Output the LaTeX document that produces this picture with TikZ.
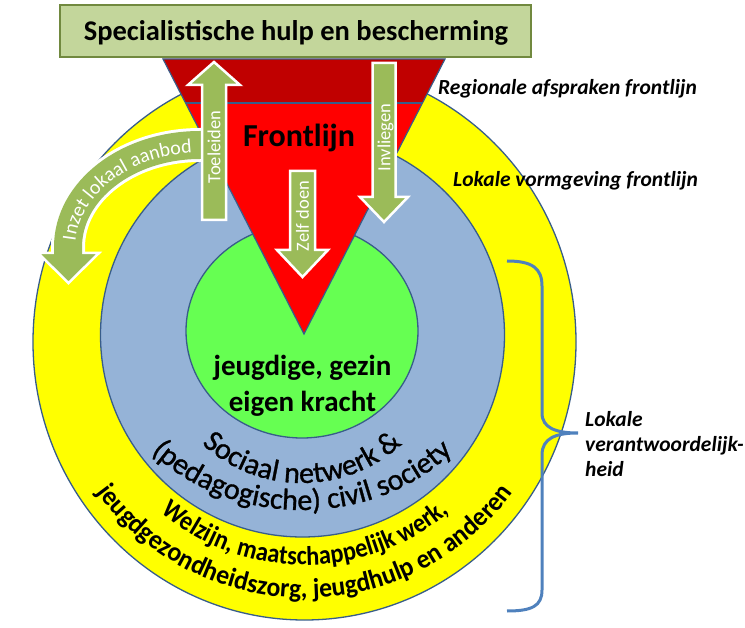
\documentclass[tikz,border=0pt]{standalone}
\usepackage{fontspec}
\setmainfont{Carlito}
\newfontfamily\condfont[FakeStretch=0.9]{Carlito}
\newfontfamily\condfontb[FakeStretch=0.95]{Carlito}
\newfontfamily\heavyfont[FakeBold=1]{Carlito}
\usetikzlibrary{decorations.text}
\definecolor{yel}{RGB}{255,255,0}
\definecolor{blu}{RGB}{149,179,215}
\definecolor{grn}{RGB}{102,255,82}
\definecolor{redd}{RGB}{255,0,0}
\definecolor{dred}{RGB}{192,0,0}
\definecolor{outl}{RGB}{56,93,138}
\definecolor{boxfill}{RGB}{195,214,155}
\definecolor{boxline}{RGB}{113,137,63}
\definecolor{arrg}{RGB}{155,187,89}
\definecolor{bracecol}{RGB}{79,129,189}
\tikzset{
  ring/.style={draw=outl, line width=1.3pt},
  blockarrow/.style={fill=arrg, draw=white, line width=2.5pt, line join=miter},
  arrowlabel/.style={text=white, font=\fontsize{18.5}{20}\selectfont, rotate=90, inner sep=0pt, text height=12.5pt, text depth=0pt},
  sidelabel/.style={font=\fontsize{21.5}{25}\selectfont\bfseries\itshape, inner sep=0pt, anchor=base west},
  bigbold/.style={font=\fontsize{29}{35}\selectfont\bfseries, inner sep=0pt, anchor=base},
}
\begin{document}
\begin{tikzpicture}[x=1pt,y=-1pt]
\useasboundingbox (0,0) rectangle (745,628);
% rings
\draw[ring, fill=yel] (304.5,342) ellipse [x radius=271.5, y radius=278];
\draw[ring, fill=blu] (302.5,335) circle [radius=202];
\draw[ring, fill=grn] (302,331) ellipse [x radius=116, y radius=107];
% front line triangle
\fill[redd] (163,59) -- (445,59) -- (304,334) -- cycle;
\fill[dred] (163,59) -- (445,59) -- (422.4,103) -- (185.6,103) -- cycle;
\draw[outl, line width=1.2pt] (185.6,103) -- (422.4,103);
\draw[outl, line width=1.2pt, line join=miter] (163,59) -- (445,59) -- (304,334) -- cycle;
% top box
\node[draw=boxline, fill=boxfill, line width=2pt, minimum width=471pt, minimum height=52pt, inner sep=0pt] (spec) at (295.5,31) {};
\node[font=\fontsize{28.5}{34}\selectfont\bfseries, inner sep=0pt, anchor=base] (spectext) at (296,41) {Specialistische hulp en bescherming};
% curved arrow Inzet lokaal aanbod
\draw[white, line width=34pt] (68,254) -- (68,247) arc[start angle=180, end angle=270, x radius=132, y radius=102] -- (210,145);
\filldraw[blockarrow] (38,253) -- (99,253) -- (68.5,283) -- cycle;
\draw[arrg, line width=28pt] (68,255) -- (68,247) arc[start angle=180, end angle=270, x radius=132, y radius=102] -- (212,145);
\path[decorate, decoration={text along path, text align=center, text color=white,
  text={|\fontsize{20}{22}\selectfont|Inzet lokaal aanbod}}]
  (75,249) arc[start angle=180, end angle=270, x radius=125, y radius=96];
% straight arrows
\filldraw[blockarrow] (202,220) -- (202,85) -- (188,85) -- (214,62) -- (240,85) -- (226,85) -- (226,220) -- cycle;
\filldraw[blockarrow] (372.5,63) -- (395.5,63) -- (395.5,197) -- (408,197) -- (384,222) -- (360,197) -- (372.5,197) -- cycle;
\filldraw[blockarrow] (290,171) -- (315,171) -- (315,250) -- (328,250) -- (302.5,277) -- (277,250) -- (290,250) -- cycle;
\node[arrowlabel] (toeleiden) at (214,147) {Toeleiden};
\node[arrowlabel] (invliegen) at (384,137.5) {Invliegen};
\node[arrowlabel] (zelfdoen) at (302.5,216) {Zelf doen};
% texts
\node[font=\fontsize{32}{38}\selectfont\bfseries, inner sep=0pt, anchor=base] (front) at (299,146.5) {Frontlijn};
\node[bigbold] (jeugd1) at (302.5,376) {jeugdige, gezin};
\node[bigbold] (jeugd2) at (302.5,411.7) {eigen kracht};
\path[decorate, decoration={text along path, text align=center, text color=black,
  text={|\fontsize{30}{32}\heavyfont|Sociaal netwerk {\&}}}]
  (154,335) arc[start angle=180, end angle=0, radius=148];
\path[decorate, decoration={text along path, text align=center, text color=black,
  text={|\fontsize{30}{32}\heavyfont|(pedagogische) civil society}}]
  (99,335) arc[start angle=180, end angle=0, x radius=203, y radius=175];
\path[decorate, decoration={text along path, text align=center, text color=black,
  text={|\fontsize{27}{30}\condfont\bfseries|Welzijn, maatschappelijk werk,}}]
  (81,341) arc[start angle=180, end angle=0, x radius=224, y radius=224];
\path[decorate, decoration={text along path, text align=center, text color=black,
  text={|\fontsize{27}{30}\condfontb\bfseries|jeugdgezondheidszorg, jeugdhulp en anderen}}]
  (47,340) arc[start angle=180, end angle=0, radius=258];
% side labels
\node[sidelabel] (regio) at (438,95) {Regionale afspraken frontlijn};
\node[sidelabel] (lokaal) at (453,186.7) {Lokale vormgeving frontlijn};
\node[sidelabel] (lv1) at (585,426.7) {Lokale};
\node[sidelabel] (lv2) at (585,451.7) {verantwoordelijk-};
\node[sidelabel] (lv3) at (585,476.7) {heid};
% brace
\draw[bracecol, line width=3pt] (507,261) .. controls (532,261) and (542,268) .. (542,286) -- (542,413)
  .. controls (542,428) and (556,433) .. (578,433)
  .. controls (556,433) and (542,438) .. (542,455) -- (542,590)
  .. controls (542,606) and (532,611) .. (507,611);
\end{tikzpicture}
\end{document}
